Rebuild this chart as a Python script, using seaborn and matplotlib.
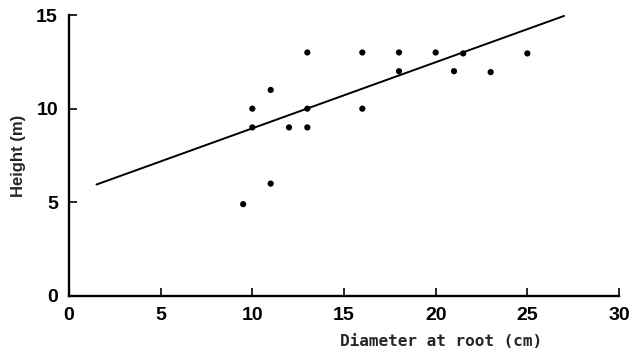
import matplotlib
matplotlib.use("Agg")
import matplotlib.pyplot as plt
import seaborn as sns
import pandas as pd

# Data
diameter = [9.5, 10, 10, 11, 11, 12, 13, 13, 13, 16, 16, 18, 18, 20, 21, 21.5, 23, 25]
height = [4.9, 10, 9, 11, 6, 9, 13, 10, 9, 13, 10, 13, 12, 13, 12, 12.95, 11.95, 12.95]
fit_x = [1.5, 27]
fit_y = [5.95, 14.95]
xticks = [0, 5, 10, 15, 20, 25, 30]
yticks = [0, 5, 10, 15]

sns.set_theme(style="ticks")
plt.rcParams['font.family'] = ['Liberation Sans', 'DejaVu Sans']

df = pd.DataFrame({"d": diameter, "h": height})
fit = pd.DataFrame({"x": fit_x, "y": fit_y})

fig = plt.figure(figsize=(6.35, 3.56), dpi=100)
ax = fig.add_axes([69/635, 1-296/356, 550/635, 281/356])

sns.scatterplot(data=df, x="d", y="h", ax=ax, color="black", s=20,
                edgecolor="none", zorder=3)
sns.lineplot(data=fit, x="x", y="y", ax=ax, color="black", linewidth=1.4)

ax.set_xlim(0, 30)
ax.set_ylim(0, 15)
ax.set_xticks(xticks)
ax.set_yticks(yticks)
ax.set_xticklabels([str(t) for t in xticks], fontsize=14, fontweight="bold")
ax.set_yticklabels([str(t) for t in yticks], fontsize=14, fontweight="bold")
ax.tick_params(direction="in", length=6, width=1.2, pad=8, colors="black")

sns.despine(ax=ax)
for s in ("left", "bottom"):
    ax.spines[s].set_linewidth(1.7)
    ax.spines[s].set_color("black")

ax.set_xlabel("Diameter at root (cm)", fontsize=11.5, fontweight="bold",
              family=["DejaVu Sans Mono", "DejaVu Sans"], va="top")
ax.xaxis.set_label_coords(0.676, -0.135)
ax.set_ylabel("Height (m)", fontsize=12, fontweight="bold")
ax.yaxis.set_label_coords(-0.078, 0.5)

fig.savefig("out.png", dpi=100, facecolor="white")
